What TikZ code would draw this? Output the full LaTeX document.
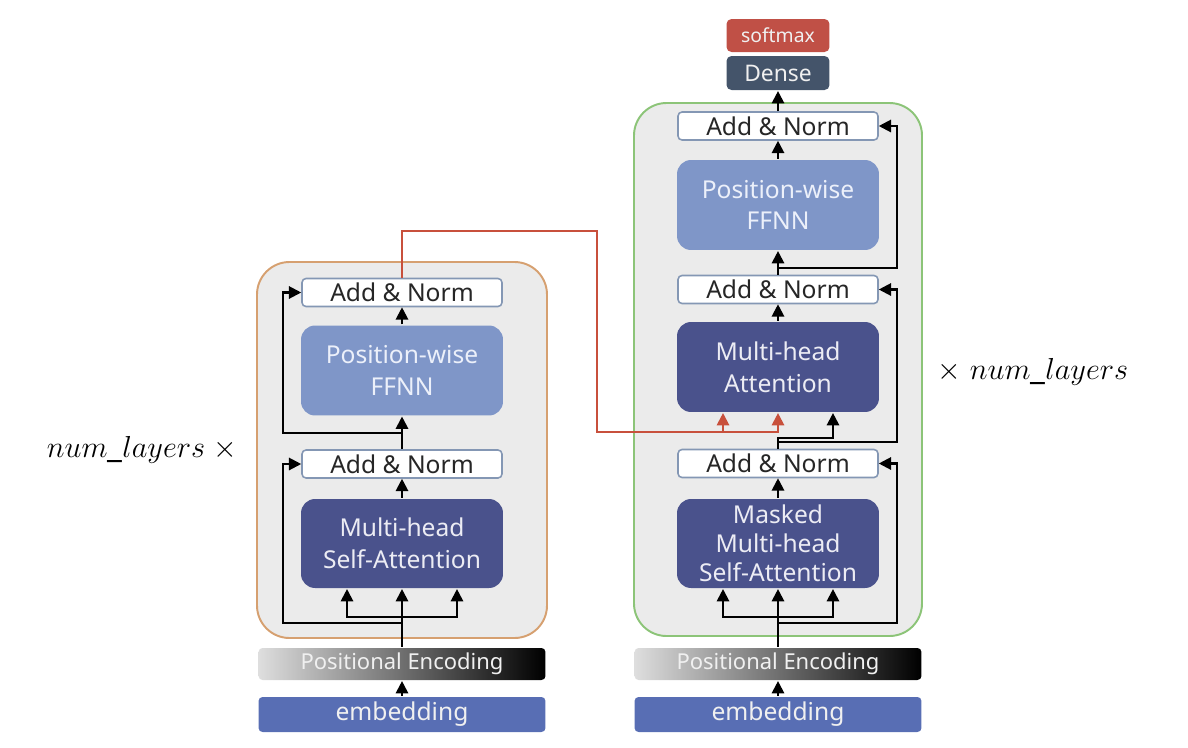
\documentclass[tikz,border=0pt]{standalone}
\usepackage{fontspec}
\setmainfont{Noto Sans}
\usepackage{tikz}
\usetikzlibrary{arrows.meta,positioning,calc}
\definecolor{layerbg}{RGB}{235,235,235}
\definecolor{encedge}{RGB}{214,160,112}
\definecolor{decedge}{RGB}{140,196,120}
\definecolor{normedge}{RGB}{132,151,180}
\definecolor{ffnnfill}{RGB}{127,150,200}
\definecolor{ffnntext}{RGB}{236,240,250}
\definecolor{attnfill}{RGB}{74,82,140}
\definecolor{attntext}{RGB}{236,236,244}
\definecolor{embfill}{RGB}{88,110,180}
\definecolor{densefill}{RGB}{68,84,106}
\definecolor{softfill}{RGB}{192,80,70}
\definecolor{redwire}{RGB}{200,80,60}
\definecolor{peleft}{RGB}{222,222,222}
\tikzset{addnorm/.style={draw=normedge,fill=white,rounded corners=0.08cm,line width=0.9pt,minimum width=4cm,minimum height=0.56cm,inner sep=0pt,text=black!85,font=\fontsize{14}{16}\selectfont}}
\tikzset{ffnn/.style={fill=ffnnfill,rounded corners=0.28cm,minimum width=4.04cm,minimum height=1.8cm,inner sep=0pt,align=center,text=ffnntext,font=\fontsize{14}{18}\selectfont}}
\tikzset{attn/.style={fill=attnfill,rounded corners=0.28cm,minimum width=4.04cm,minimum height=1.78cm,inner sep=0pt,align=center,text=attntext,font=\fontsize{14}{18}\selectfont}}
\tikzset{posenc/.style={left color=peleft,right color=black,rounded corners=0.08cm,minimum width=5.74cm,minimum height=0.64cm,inner sep=0pt,text=white!94!black,font=\fontsize{12.5}{14}\selectfont}}
\tikzset{embed/.style={fill=embfill,rounded corners=0.08cm,minimum width=5.74cm,minimum height=0.7cm,inner sep=0pt,text=white!94!black,font=\fontsize{14}{16}\selectfont}}
\tikzset{headbox/.style={rounded corners=0.1cm,minimum width=2.06cm,inner sep=0pt,text=white!94!black}}
\tikzset{frame/.style={fill=layerbg,line width=1.1pt,rounded corners=0.65cm}}
\tikzset{redline/.style={draw=redwire,line width=1.2pt}}
\tikzset{wire/.style={-{Triangle[length=7pt,width=7pt]}}}
\tikzset{wires/.style={{Triangle[length=7pt,width=7pt]}-{Triangle[length=7pt,width=7pt]}}}

\begin{document}
\begin{tikzpicture}[x=0.02cm, y=-0.02cm, line width=1.2pt]
    \useasboundingbox (0,0) rectangle (1188,748);

    % layer frames
    \draw[frame,draw=encedge] (257,262) rectangle (547,638);
    \draw[frame,draw=decedge] (634,103) rectangle (922,636);

    % encoder
    \node[embed] (encEmb) at (402,714.5) {embedding};
    \node[posenc] (encPE) at (402,664) {Positional Encoding};
    \node[attn] (encMHA) at (402,543.5) {Multi-head\\Self-Attention};
    \node[addnorm] (encAN1) at (402,464) {Add \& Norm};
    \node[ffnn] (encFF) at (402,370.5) {Position-wise\\FFNN};
    \node[addnorm] (encAN2) at (402,292.5) {Add \& Norm};

    % decoder
    \node[embed] (decEmb) at (778,714.5) {embedding};
    \node[posenc] (decPE) at (778,664) {Positional Encoding};
    \node[attn,font=\fontsize{14}{16.5}\selectfont] (decMMA) at (778,543.5) {Masked\\Multi-head\\Self-Attention};
    \node[addnorm] (decAN1) at (778,463.5) {Add \& Norm};
    \node[attn,minimum height=1.8cm] (decMHA) at (778,367) {Multi-head\\Attention};
    \node[addnorm] (decAN2) at (778,289.5) {Add \& Norm};
    \node[ffnn] (decFF) at (778,205) {Position-wise\\FFNN};
    \node[addnorm] (decAN3) at (778,126) {Add \& Norm};
    \node[headbox,fill=densefill,minimum height=0.68cm,font=\fontsize{13}{15}\selectfont] (decDense) at (778,73) {Dense};
    \node[headbox,fill=softfill,minimum height=0.66cm,font=\fontsize{11}{13}\selectfont] (decSoft) at (778,35.5) {softmax};

    % repeat labels
    \node[font=\fontsize{19}{22}\selectfont] (encRep) at (142,450) {$num\_layers\;\times$};
    \node[font=\fontsize{19}{22}\selectfont] (decRep) at (1033,372) {$\times\; num\_layers$};

    % helper points
    \coordinate (eLeft) at (283,0);
    \coordinate (eBr) at (402,617);
    \coordinate (eR1) at (402,623);
    \coordinate (eR2) at (402,433);
    \coordinate (eK) at ([xshift=-1.1cm]encMHA.south);
    \coordinate (eV) at ([xshift=1.1cm]encMHA.south);
    \coordinate (dRight) at (897,0);
    \coordinate (dBr) at (778,617);
    \coordinate (dR1) at (778,623);
    \coordinate (dUp) at (778,438);
    \coordinate (dR2) at (778,442);
    \coordinate (dR3) at (778,268);
    \coordinate (mK) at ([xshift=-1.1cm]decMMA.south);
    \coordinate (mV) at ([xshift=1.1cm]decMMA.south);
    \coordinate (dK) at ([xshift=-1.1cm]decMHA.south);
    \coordinate (dV) at (decMHA.south);
    \coordinate (dQ) at ([xshift=1.1cm]decMHA.south);
    \coordinate (rTop) at (597,231);
    \coordinate (rBot) at (597,432);

    % encoder wires
    \draw[wire] (encEmb) -- (encPE);
    \draw[wire] (encPE) -- (encMHA);
    \draw[wires] (eK) |- (eBr) -| (eV);
    \draw[wire] (eR1) -- (eR1 -| eLeft) |- (encAN1.west);
    \draw[wire] (encMHA) -- (encAN1);
    \draw[wire] (encAN1) -- (encFF);
    \draw[wire] (eR2) -- (eR2 -| eLeft) |- (encAN2.west);
    \draw[wire] (encFF) -- (encAN2);

    % encoder output to decoder
    \draw[redline,wire] (encAN2.north) |- (rTop) -- (rBot) -| (dV);
    \draw[redline,wire] (rBot -| dK) -- (dK);

    % decoder wires
    \draw[wire] (decEmb) -- (decPE);
    \draw[wire] (decPE) -- (decMMA);
    \draw[wires] (mK) |- (dBr) -| (mV);
    \draw[wire] (dR1) -- (dR1 -| dRight) |- (decAN1.east);
    \draw[wire] (decMMA) -- (decAN1);
    \draw[wire] (decAN1.north) -- (dUp) -| (dQ);
    \draw[wire] (dR2) -- (dR2 -| dRight) |- (decAN2.east);
    \draw[wire] (decMHA) -- (decAN2);
    \draw[wire] (decAN2) -- (decFF);
    \draw[wire] (dR3) -- (dR3 -| dRight) |- (decAN3.east);
    \draw[wire] (decFF) -- (decAN3);
    \draw[wire] (decAN3) -- (decDense);
\end{tikzpicture}
\end{document}
